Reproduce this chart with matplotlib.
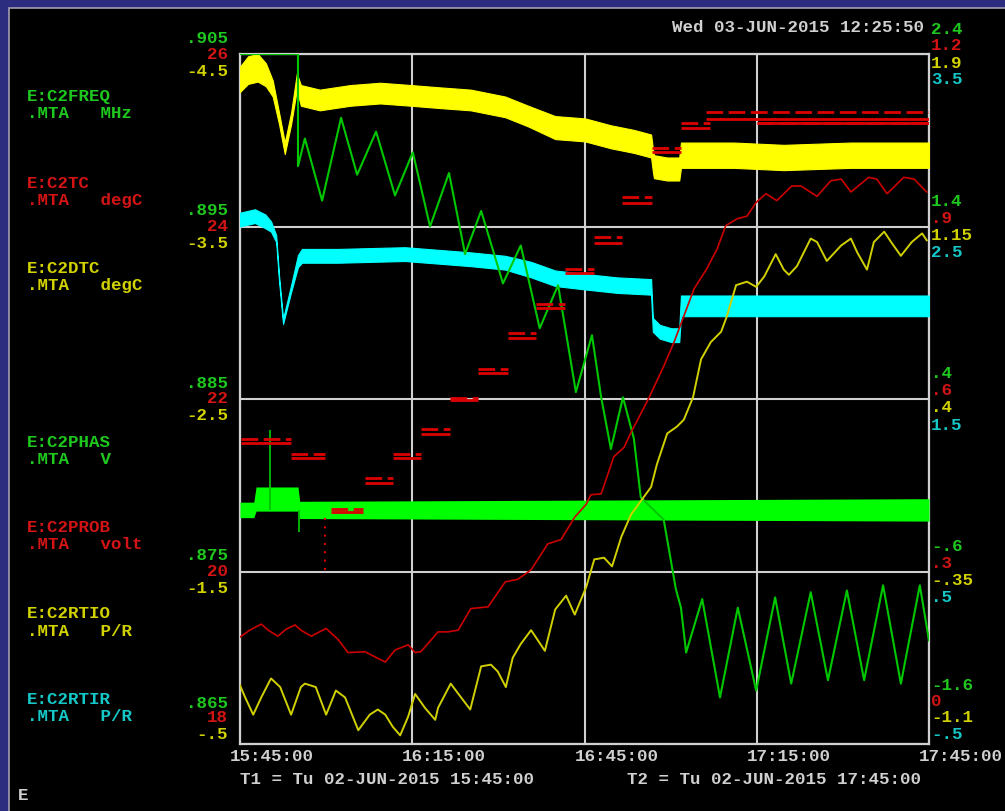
import matplotlib
matplotlib.use("Agg")
import matplotlib.pyplot as plt
from matplotlib.patches import Rectangle

plt.rcParams['font.family'] = ['Liberation Mono', 'DejaVu Sans Mono']
plt.rcParams['font.weight'] = 'bold'

# time axis in minutes after 15:45:00
xticks = [0, 30, 60, 90, 120]
xlabels = ["15:45:00", "16:15:00", "16:45:00", "17:15:00", "17:45:00"]

# E:C2FREQ (MHz) - green oscillating line, left scale
freq_t = [0, 10.1, 10.1, 10.4, 11.3, 14.3, 17.6, 20.4, 23.7, 27.0, 30.1, 33.1, 36.4, 39.2, 42.0,
          45.8, 48.9, 52.2, 55.4, 58.5, 61.3, 62.9, 64.6, 66.7, 68.6, 69.8, 73.8, 75.9, 76.8, 77.7,
          80.5, 83.6, 86.7, 89.9, 93.2, 96.0, 99.4, 102.4, 105.7, 108.7, 112.0, 115.1, 118.4, 120]
freq_v = [.905, .905, .8985, .8989, .9001, .8965, .9013, .8980, .9005, .8968, .8993, .8950, .8981,
          .8934, .8959, .8917, .8939, .8891, .8916, .8854, .8887, .8851, .8821, .8851, .8827, .8793,
          .8780, .8740, .8729, .8703, .8734, .8677, .8729, .8681, .8735, .8685, .8738, .8687, .8739,
          .8687, .8742, .8685, .8742, .8710]

# E:C2TC (degC) - red line
tc_t = [0, 1.7, 3.7, 4.9, 6.6, 8.0, 9.6, 10.6, 12.4, 15.0, 17.1, 18.8, 21.8, 23.2, 25.3, 27.0,
        29.3, 30.5, 31.5, 34.5, 36.2, 38.0, 40.2, 43.2, 46.2, 48.4, 50.7, 53.6, 55.9, 58.3, 60.3,
        61.1, 62.9, 65.1, 66.9, 68.3, 69.5, 71.2, 73.8, 75.6, 79.1, 81.3, 83.1, 84.6, 86.6, 88.3,
        89.9, 91.6, 93.5, 96.1, 97.7, 100.5, 102.9, 104.7, 106.4, 109.5, 110.9, 112.7, 115.6,
        117.4, 119.6]
tc_v = [19.24, 19.32, 19.39, 19.32, 19.25, 19.33, 19.38, 19.32, 19.25, 19.34, 19.21, 19.06, 19.07,
        19.02, 18.95, 19.09, 19.15, 19.06, 19.07, 19.30, 19.30, 19.32, 19.57, 19.59, 19.88, 19.91,
        20.02, 20.32, 20.37, 20.63, 20.78, 20.89, 20.90, 21.33, 21.44, 21.64, 21.79, 22.01, 22.38,
        22.66, 23.28, 23.51, 23.74, 24.01, 24.09, 24.12, 24.28, 24.38, 24.30, 24.47, 24.47, 24.35,
        24.53, 24.55, 24.40, 24.57, 24.55, 24.38, 24.57, 24.55, 24.40]

# E:C2DTC (degC) - yellow line
dtc_t = [0, 0.9, 2.3, 3.7, 5.4, 7.0, 8.9, 10.6, 11.3, 13.2, 15.0, 16.7, 18.3, 20.6, 22.6, 24.0,
         25.3, 26.6, 27.9, 29.3, 30.5, 32.2, 34.0, 34.5, 36.7, 38.5, 40.1, 42.0, 43.7, 44.9, 46.3,
         47.5, 48.9, 50.7, 53.1, 54.9, 56.8, 58.3, 60.3, 61.7, 63.4, 64.8, 66.4, 68.1, 71.6, 72.6,
         74.4, 76.1, 77.3, 78.9, 80.3, 82.0, 83.8, 84.8, 86.4, 88.3, 89.9, 91.3, 93.3, 94.7, 95.6,
         97.0, 99.4, 100.5, 102.2, 104.7, 106.4, 107.5, 109.2, 110.4, 112.2, 113.4, 115.1, 117.0,
         118.8, 119.6]
dtc_v = [-0.84, -0.77, -0.67, -0.77, -0.88, -0.83, -0.67, -0.83, -0.85, -0.83, -0.67, -0.81, -0.77,
         -0.58, -0.67, -0.70, -0.67, -0.60, -0.55, -0.66, -0.79, -0.71, -0.64, -0.71, -0.85, -0.77,
         -0.70, -0.95, -0.96, -0.92, -0.83, -1.00, -1.08, -1.16, -1.04, -1.28, -1.36, -1.25, -1.41,
         -1.57, -1.58, -1.53, -1.70, -1.83, -1.99, -2.12, -2.30, -2.34, -2.38, -2.51, -2.73, -2.83,
         -2.89, -2.98, -3.16, -3.18, -3.15, -3.21, -3.34, -3.25, -3.22, -3.27, -3.43, -3.41, -3.30,
         -3.39, -3.43, -3.35, -3.25, -3.41, -3.47, -3.41, -3.33, -3.41, -3.46, -3.42]

# E:C2PHAS (V) - noisy green band: centre and half spread
phas_t = [0, 2.4, 2.8, 10.1, 10.4, 120]
phas_v = [-0.243, -0.243, -0.18, -0.18, -0.243, -0.243]
phas_w = [0.045, 0.045, 0.07, 0.07, 0.05, 0.065]
phas_spike_t = [5.2, 10.3]
phas_spike_v = [0.22, -0.37]

# E:C2PROB (volt) - quantised red steps
prob_t0 = [0.2, 8.9, 15.8, 21.8, 26.6, 31.5, 36.6, 41.5, 46.7, 51.6, 56.6, 61.7, 66.5, 71.7, 76.8, 81.2, 90.0]
prob_t1 = [8.9, 14.8, 21.4, 26.6, 31.5, 36.6, 41.5, 46.7, 51.6, 56.6, 61.7, 66.5, 71.7, 76.8, 81.8, 120, 120]
prob_hi = [0.530, 0.504, 0.409, 0.463, 0.504, 0.548, 0.602, 0.652, 0.715, 0.765, 0.826, 0.882,
           0.951, 1.037, 1.080, 1.099, 1.080]
prob_lo = [0.523, 0.497, 0.403, 0.454, 0.497, 0.539, 0.598, 0.645, 0.706, 0.758, 0.819, 0.871,
           0.941, 1.030, 1.071, 1.087, 1.080]
prob_drop_t = 14.8
prob_drop_v = [0.303, 0.395]

# E:C2RTIO (P/R) - noisy yellow band
rtio_t = [0, 1.4, 3.1, 4.5, 5.7, 6.8, 7.8, 8.9, 9.9, 10.6, 13.9, 19.2, 24.4, 29.8, 34.8, 40.2, 46.2,
          50.2, 54.9, 60.1, 64.6, 68.6, 71.6, 71.9, 72.1, 74.4, 76.5, 76.8, 80.3, 86.0, 94.7, 106.4, 120]
rtio_v = [1.79, 1.83, 1.84, 1.81, 1.75, 1.62, 1.49, 1.62, 1.78, 1.72, 1.70, 1.72, 1.73, 1.72, 1.71,
          1.70, 1.67, 1.63, 1.58, 1.57, 1.54, 1.52, 1.50, 1.44, 1.41, 1.40, 1.40, 1.46, 1.46, 1.46,
          1.45, 1.46, 1.46]
rtio_w = [0.055, 0.06, 0.06, 0.05, 0.035, 0.025, 0.025, 0.025, 0.035, 0.045, 0.045, 0.045, 0.045,
          0.045, 0.045, 0.045, 0.045, 0.045, 0.05, 0.05, 0.05, 0.05, 0.05, 0.05, 0.05, 0.05, 0.05,
          0.055, 0.055, 0.055, 0.055, 0.055, 0.055]

# E:C2RTIR (P/R) - noisy cyan band
rtir_t = [0, 2.6, 4.4, 5.4, 6.3, 6.8, 7.5, 8.9, 10.1, 10.8, 17.1, 28.7, 40.2, 46.2, 50.7, 54.9,
          60.1, 65.7, 71.6, 71.9, 73.1, 75.1, 76.5, 76.8, 89.0, 100.5, 120]
rtir_v = [2.54, 2.56, 2.53, 2.50, 2.43, 2.20, 1.95, 2.14, 2.30, 2.33, 2.33, 2.34, 2.31, 2.29, 2.25,
          2.20, 2.18, 2.16, 2.15, 1.93, 1.89, 1.87, 1.87, 2.04, 2.04, 2.04, 2.04]
rtir_w = [0.04, 0.04, 0.04, 0.03, 0.02, 0.015, 0.015, 0.02, 0.035, 0.04, 0.04, 0.04, 0.04, 0.04,
          0.045, 0.045, 0.045, 0.045, 0.045, 0.04, 0.04, 0.04, 0.04, 0.06, 0.06, 0.06, 0.06]

# axis scales (bottom -> top) and tick labels
freq_ticks = [.865, .875, .885, .895, .905]
freq_lab = [".865", ".875", ".885", ".895", ".905"]
tc_ticks = [18, 20, 22, 24, 26]
tc_lab = ["18", "20", "22", "24", "26"]
dtc_ticks = [-0.5, -1.5, -2.5, -3.5, -4.5]
dtc_lab = ["-.5", "-1.5", "-2.5", "-3.5", "-4.5"]
phas_ticks = [-1.6, -0.6, 0.4, 1.4, 2.4]
phas_lab = ["-1.6", "-.6", ".4", "1.4", "2.4"]
prob_ticks = [0, 0.3, 0.6, 0.9, 1.2]
prob_lab = ["0", ".3", ".6", ".9", "1.2"]
rtio_ticks = [-1.1, -0.35, 0.4, 1.15, 1.9]
rtio_lab = ["-1.1", "-.35", ".4", "1.15", "1.9"]
rtir_ticks = [-0.5, 0.5, 1.5, 2.5, 3.5]
rtir_lab = ["-.5", ".5", "1.5", "2.5", "3.5"]

GREEN = '#1ec81e'
RED = '#d21414'
YELLOW = '#d2d200'
CYAN = '#14c8c8'
GREY = '#d0d0d0'
FS = 12.6

W, H = 1005, 812
fig = plt.figure(figsize=(W / 100, H / 100), dpi=100)
fig.patch.set_facecolor('#2d2d80')
fig.patches.append(Rectangle((9 / W, -0.01), 1.02, 1.01 - 9 / H, transform=fig.transFigure,
                             facecolor='black', edgecolor='#a0a0b0', lw=1.2, zorder=-5))

rect = [240 / W, 67 / H, 689 / W, 690 / H]
ax = fig.add_axes(rect, zorder=1)
ax.set_facecolor('black')
ax.set_xlim(0, 120)
ax.set_ylim(0, 4)
ax.set_xticks(xticks)
ax.set_yticks([0, 1, 2, 3, 4])
ax.grid(True, color=GREY, lw=1.5)
ax.tick_params(length=0, labelbottom=False, labelleft=False)
for s in ax.spines.values():
    s.set_color(GREY)
    s.set_linewidth(1.6)


def overlay(lo, hi, z):
    a = fig.add_axes(rect, zorder=z)
    a.set_xlim(0, 120)
    a.set_ylim(lo, hi)
    a.axis('off')
    a.patch.set_visible(False)
    return a


ax_phas = overlay(phas_ticks[0], phas_ticks[-1], 2)
ax_rtir = overlay(rtir_ticks[0], rtir_ticks[-1], 3)
ax_rtio = overlay(rtio_ticks[0], rtio_ticks[-1], 4)
ax_freq = overlay(freq_ticks[0], freq_ticks[-1], 5)
ax_tc = overlay(tc_ticks[0], tc_ticks[-1], 6)
ax_dtc = overlay(dtc_ticks[0], dtc_ticks[-1], 7)
ax_prob = overlay(prob_ticks[0], prob_ticks[-1], 8)

lo = [v - w for v, w in zip(phas_v, phas_w)]
hi = [v + w for v, w in zip(phas_v, phas_w)]
ax_phas.fill_between(phas_t, lo, hi, color='#00ff00', lw=0)
ax_phas.vlines(phas_spike_t, phas_v[0], phas_spike_v, color='#00c000', lw=1.3)

lo = [v - w for v, w in zip(rtir_v, rtir_w)]
hi = [v + w for v, w in zip(rtir_v, rtir_w)]
ax_rtir.fill_between(rtir_t, lo, hi, color='#00ffff', lw=0.8)

lo = [v - w for v, w in zip(rtio_v, rtio_w)]
hi = [v + w for v, w in zip(rtio_v, rtio_w)]
ax_rtio.fill_between(rtio_t, lo, hi, color='#ffff00', lw=0.8)

ax_freq.plot(freq_t, freq_v, color='#00c800', lw=1.5)
ax_tc.plot(tc_t, tc_v, color='#cc0000', lw=1.2)
ax_dtc.plot(dtc_t, dtc_v, color='#d0d000', lw=1.4)

ax_prob.hlines(prob_lo, prob_t0, prob_t1, color='#dd0000', lw=2)
ax_prob.hlines(prob_hi, prob_t0, prob_t1, color='#dd0000', lw=2, linestyles=(0, (6, 2)))
ax_prob.vlines(prob_drop_t, prob_drop_v[0], prob_drop_v[1], color='#dd0000', lw=1.5,
               linestyles=(0, (1, 3)))


def tick_text(a, ticks, labels, color, side, dy, dy_bottom):
    for i, (v, s) in enumerate(zip(ticks, labels)):
        off = dy_bottom if i == 0 else dy
        if side == 'left':
            a.annotate(s, xy=(0, v), xycoords=a.get_yaxis_transform(), xytext=(-12, off),
                       textcoords='offset pixels', ha='right', va='center', color=color,
                       fontsize=FS, annotation_clip=False)
        else:
            a.annotate(s, xy=(1, v), xycoords=a.get_yaxis_transform(), xytext=(2, off),
                       textcoords='offset pixels', ha='left', va='center', color=color,
                       fontsize=FS, annotation_clip=False)


tick_text(ax_freq, freq_ticks, freq_lab, GREEN, 'left', 17, 42)
tick_text(ax_tc, tc_ticks, tc_lab, RED, 'left', 1, 27)
tick_text(ax_dtc, dtc_ticks, dtc_lab, YELLOW, 'left', -16, 10)
tick_text(ax_phas, phas_ticks, phas_lab, GREEN, 'right', 26, 59)
tick_text(ax_prob, prob_ticks, prob_lab, RED, 'right', 9, 43)
tick_text(ax_rtio, rtio_ticks, rtio_lab, YELLOW, 'right', -8, 27)
tick_text(ax_rtir, rtir_ticks, rtir_lab, CYAN, 'right', -25, 10)

for t, s in zip(xticks, xlabels):
    ax.annotate(s, xy=(t, 0), xycoords=ax.get_xaxis_transform(), xytext=(-10, -12),
                textcoords='offset pixels', ha='left', va='center', color=GREY, fontsize=FS,
                annotation_clip=False)

# channel legend on the left
names = [("E:C2FREQ", ".MTA   MHz", GREEN, 97),
         ("E:C2TC", ".MTA   degC", RED, 183),
         ("E:C2DTC", ".MTA   degC", YELLOW, 269),
         ("E:C2PHAS", ".MTA   V", GREEN, 443),
         ("E:C2PROB", ".MTA   volt", RED, 528),
         ("E:C2RTIO", ".MTA   P/R", YELLOW, 614),
         ("E:C2RTIR", ".MTA   P/R", CYAN, 700)]
for n1, n2, c, y in names:
    fig.text(27 / W, 1 - y / H, n1, color=c, fontsize=FS, ha='left', va='center')
    fig.text(27 / W, 1 - (y + 17) / H, n2, color=c, fontsize=FS, ha='left', va='center')

fig.text(672 / W, 1 - 28 / H, "Wed 03-JUN-2015 12:25:50", color=GREY, fontsize=FS,
         ha='left', va='center')
fig.text(240 / W, 1 - 780 / H, "T1 = Tu 02-JUN-2015 15:45:00", color=GREY, fontsize=FS,
         ha='left', va='center')
fig.text(627 / W, 1 - 780 / H, "T2 = Tu 02-JUN-2015 17:45:00", color=GREY, fontsize=FS,
         ha='left', va='center')
fig.text(18 / W, 1 - 796 / H, "E", color=GREY, fontsize=FS, ha='left', va='center')

fig.savefig("out.png", dpi=100, facecolor=fig.get_facecolor())
